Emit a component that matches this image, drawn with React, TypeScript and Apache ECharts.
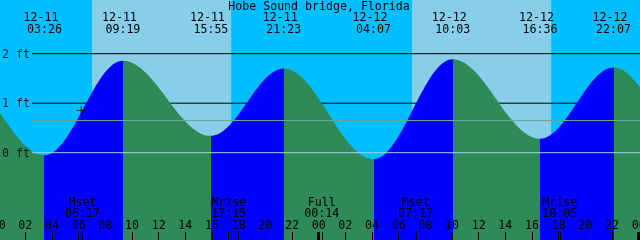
import React, { useEffect, useRef } from 'react';
import * as echarts from 'echarts';

const TITLE = 'Hobe Sound bridge, Florida';
const FONT = '"DejaVu Sans Mono", "Liberation Mono", monospace';
const FS = 11.6;

// hours since 12-11 00:00 ; tide extremes (ft)
const tideTimes = [-9.4, -3.2, 3.433, 9.317, 15.917, 21.383, 28.117, 34.05, 40.6, 46.117, 52.5, 58.7];
const tideLevels = [0.15, 1.65, -0.05, 1.86, 0.34, 1.70, -0.13, 1.89, 0.28, 1.72, -0.1, 1.85];

// labelled extremes (top)
const eventTimes = [3.433, 9.317, 15.917, 21.383, 28.117, 34.05, 40.6, 46.117];
const eventDates = ['12-11', '12-11', '12-11', '12-11', '12-12', '12-12', '12-12', '12-12'];
const eventClock = ['03:26', '09:19', '15:55', '21:23', '04:07', '10:03', '16:36', '22:07'];

// daylight
const sunrise = [7.0, 31.0];
const sunset = [17.43, 41.43];

// moon events (bottom)
const moonTimes = [6.283, 17.25, 24.233, 31.283, 42.083];
const moonNames = ['Mset', 'Mrise', 'Full', 'Mset', 'Mrise'];
const moonClock = ['06:17', '17:15', '00:14', '07:17', '18:05'];

// axis ticks
const hourTicks = [0, 2, 4, 6, 8, 10, 12, 14, 16, 18, 20, 22, 24, 26, 28, 30, 32, 34, 36, 38, 40, 42, 44, 46, 48];
const midnightTicks = [0, 24, 48];

// depth reference lines
const ruleLevels = [2, 1];
const axisLabelLevels = [2, 1, 0];
const axisLabelTexts = ['2 ft', '1 ft', '0 ft'];
const datumLevel = 0;
const mslLevel = 0.65;
const ruleStart = 2.5;

// current-time mark
const markPoint = [6.19, 0.85];

const X_MIN = 0;
const X_MAX = 48.1;
const Y_MIN = -1.7636;
const Y_MAX = 3.0848;

const NIGHT = '#00BFFF';
const DAY = '#87CEEB';
const RISE = '#0000FF';
const FALL = '#2E8B57';

export default function App() {
  const ref = useRef<HTMLDivElement>(null);

  useEffect(() => {
    if (!ref.current) return;
    const chart = echarts.init(ref.current, undefined, { renderer: 'svg' });

    // sky bands
    const edges = [X_MIN];
    sunrise.forEach((s, i) => { edges.push(s, sunset[i]); });
    edges.push(X_MAX);
    const skyData: any[] = [];
    for (let i = 0; i < edges.length - 1; i++) {
      skyData.push([
        { xAxis: edges[i], itemStyle: { color: i % 2 === 0 ? NIGHT : DAY } },
        { xAxis: edges[i + 1] },
      ]);
    }

    // rising / falling pieces
    const pieces: any[] = [{ lt: tideTimes[0], color: FALL }];
    for (let i = 0; i < tideTimes.length - 1; i++) {
      pieces.push({
        gte: tideTimes[i],
        lt: tideTimes[i + 1],
        color: tideLevels[i + 1] > tideLevels[i] ? RISE : FALL,
      });
    }
    pieces.push({ gte: tideTimes[tideTimes.length - 1], color: FALL });

    const ruleSeries = ruleLevels.map((lv, i) => ({
      type: 'line',
      z: 2,
      silent: true,
      showSymbol: false,
      data: [[ruleStart, lv], [X_MAX, lv]],
      lineStyle: { color: '#000', width: 1 },
      markArea: i === 0 ? { silent: true, z: 1, data: skyData } : undefined,
    }));

    const waterIndex = ruleSeries.length;

    const textBase = { fontFamily: FONT, fontSize: FS, color: '#000' };

    const findIdx = (arr: number[], v: number) => arr.findIndex((t) => Math.abs(t - v) < 1e-3);

    const hiddenLine = { show: false, onZero: false };

    const option: any = {
      animation: false,
      grid: { left: -1.333, right: 0, top: 0, bottom: 0, containLabel: false, outerBoundsMode: 'none' },
      xAxis: [
        {
          type: 'value', min: X_MIN, max: X_MAX, position: 'bottom', z: 10,
          axisLine: hiddenLine, splitLine: { show: false },
          axisTick: { show: true, inside: true, length: 8, customValues: hourTicks, lineStyle: { color: '#000', width: 1 } },
          axisLabel: {
            show: true, inside: true, margin: 10.2, lineHeight: 10, customValues: hourTicks, ...textBase,
            formatter: (v: number) => String(Math.round(v) % 24).padStart(2, '0'),
          },
        },
        {
          type: 'value', min: X_MIN, max: X_MAX, position: 'bottom', z: 10,
          axisLine: hiddenLine, splitLine: { show: false },
          axisTick: { show: true, inside: true, length: 8, customValues: midnightTicks, lineStyle: { color: '#000', width: 3 } },
          axisLabel: { show: false },
        },
        {
          type: 'value', min: X_MIN, max: X_MAX, position: 'bottom', z: 10,
          axisLine: hiddenLine, splitLine: { show: false },
          axisTick: { show: true, inside: true, length: 8, customValues: moonTimes, lineStyle: { color: '#000', width: 1 } },
          axisLabel: {
            show: true, inside: true, margin: 21, customValues: moonTimes, ...textBase, lineHeight: 11.6,
            formatter: (v: number) => {
              const i = findIdx(moonTimes, v);
              return i < 0 ? '' : moonNames[i] + '\n' + moonClock[i];
            },
          },
        },
        {
          type: 'value', min: X_MIN, max: X_MAX, position: 'top', z: 10,
          axisLine: hiddenLine, splitLine: { show: false }, axisTick: { show: false },
          axisLabel: {
            show: true, inside: true, margin: 11, customValues: eventTimes, ...textBase, lineHeight: 12.3,
            formatter: (v: number) => {
              const i = findIdx(eventTimes, v);
              return i < 0 ? '' : `{d|${eventDates[i]}}\n{t|${eventClock[i]}}`;
            },
            rich: {
              d: { ...textBase, lineHeight: 12.3, padding: [0, 7, 0, 0] },
              t: { ...textBase, lineHeight: 12.3 },
            },
          },
        },
      ],
      yAxis: { type: 'value', min: Y_MIN, max: Y_MAX, show: false, axisLine: { onZero: false } },
      visualMap: {
        type: 'piecewise', show: false, dimension: 0, seriesIndex: waterIndex, pieces,
      },
      series: [
        ...ruleSeries,
        {
          type: 'line',
          z: 3,
          silent: true,
          showSymbol: false,
          smooth: 0.36,
          smoothMonotone: 'x',
          data: tideTimes.map((t, i) => [t, tideLevels[i]]),
          lineStyle: { width: 0 },
          areaStyle: { opacity: 1, origin: 'start' },
        },
        {
          type: 'line', z: 4, silent: true, showSymbol: false,
          data: [[ruleStart, datumLevel], [X_MAX, datumLevel]],
          lineStyle: { color: '#a6d2e6', width: 1 },
        },
        {
          type: 'line', z: 4, silent: true, showSymbol: false,
          data: [[ruleStart, mslLevel], [X_MAX, mslLevel]],
          lineStyle: { color: '#66a89c', width: 1 },
        },
        {
          type: 'scatter', z: 5, silent: true, symbolSize: 0,
          data: axisLabelLevels.map((lv, i) => ({
            value: [ruleStart, lv],
            label: { show: true, position: 'left', distance: 2, formatter: axisLabelTexts[i], ...textBase },
          })),
        },
        {
          type: 'scatter', z: 5, silent: true,
          symbol: 'path://M0,4H9V5H0Z M4,0H5V9H4Z', symbolSize: 9,
          itemStyle: { color: '#000' },
          data: [markPoint],
        },
      ],
      graphic: [
        {
          type: 'text', x: 319, y: 5.5, z: 20, silent: true,
          style: { text: TITLE, fill: '#000', fontFamily: FONT, fontSize: FS, align: 'center', verticalAlign: 'middle' },
        },
      ],
    };

    chart.setOption(option);
    return () => chart.dispose();
  }, []);

  return <div ref={ref} style={{ position: 'fixed', left: 0, top: 0, width: 640, height: 240 }} />;
}
